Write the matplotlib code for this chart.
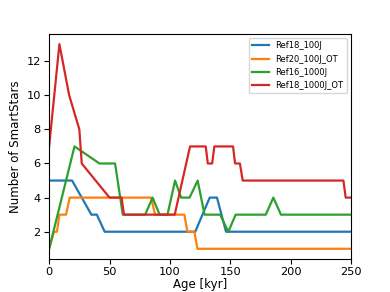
import matplotlib
matplotlib.use("Agg")
import matplotlib.pyplot as plt

# Ref18_100J
blue_x = [0, 19, 35, 39.5, 46, 121, 133, 139, 146.5, 250]
blue_y = [5, 5, 3, 3, 2, 2, 4, 4, 2, 2]

# Ref20_100J_OT
orange_x = [0, 4, 6.5, 8.5, 14, 17, 84.5, 87.7, 112, 114.5, 120.3, 122.8, 250]
orange_y = [1, 2, 2, 3, 3, 4, 4, 3, 3, 2, 2, 1, 1]

# Ref16_1000J
green_x = [0, 21, 41.7, 54.6, 61, 79.5, 85.7, 91.5, 98, 104.3, 109.3, 116.3, 123, 128.7,
           141.6, 148.4, 154.5, 179.4, 185.7, 192, 250]
green_y = [1, 7, 6, 6, 3, 3, 4, 3, 3, 5, 4, 4, 5, 3,
           3, 2, 3, 3, 4, 3, 3]

# Ref18_1000J_OT
red_x = [0, 8.5, 16.6, 25, 27, 50, 60, 62, 104, 116.7, 129.7, 131.4, 135, 136.8,
         152.3, 154, 158, 160.3, 243.7, 245.6, 250]
red_y = [7, 13, 10, 8, 6, 4, 4, 3, 3, 7, 7, 6, 6, 7,
         7, 6, 6, 5, 5, 4, 4]

labels = ["Ref18_100J", "Ref20_100J_OT", "Ref16_1000J", "Ref18_1000J_OT"]

fig, ax = plt.subplots(figsize=(3.9, 2.92), dpi=100)
fig.subplots_adjust(left=0.126, right=0.9, top=0.884, bottom=0.113)

lw = 1.6
ax.plot(blue_x, blue_y, color="#1f77b4", lw=lw, label=labels[0])
ax.plot(orange_x, orange_y, color="#ff7f0e", lw=lw, label=labels[1])
ax.plot(green_x, green_y, color="#2ca02c", lw=lw, label=labels[2])
ax.plot(red_x, red_y, color="#d62728", lw=lw, label=labels[3])

ax.set_xlim(0, 250)
ax.set_ylim(0.4, 13.6)
ax.set_xticks([0, 50, 100, 150, 200, 250])
ax.set_yticks([2, 4, 6, 8, 10, 12])
ax.tick_params(labelsize=8.2, length=3.5, width=0.8, pad=2.5)
ax.set_xlabel("Age [kyr]", fontsize=8.5, labelpad=0.5)
ax.set_ylabel("Number of SmartStars", fontsize=8.5, labelpad=3)
ax.legend(loc="upper right", fontsize=6)

fig.savefig("out.png", dpi=100)
